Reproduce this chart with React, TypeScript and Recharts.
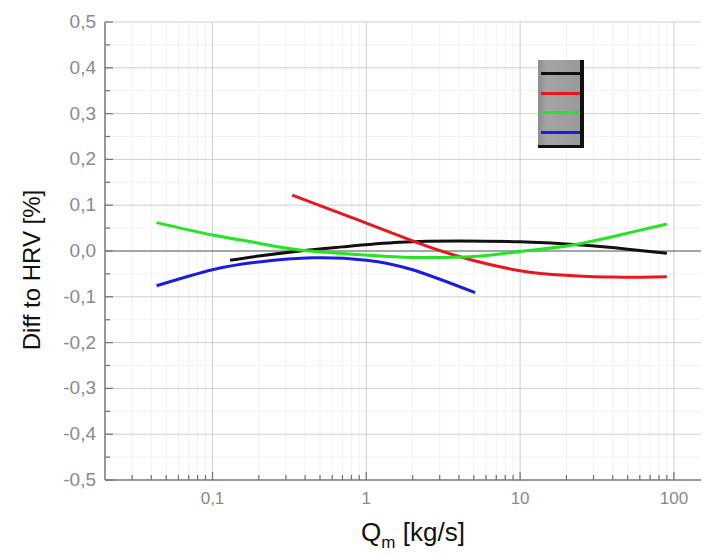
import React from 'react';
import { LineChart, Line, XAxis, YAxis, ReferenceLine, Legend } from 'recharts';

// ---- data (Q_m in kg/s, diff in %) ----
const blackSeries = [
  { x: 0.13, y: -0.02 },
  { x: 0.2, y: -0.011 },
  { x: 0.37, y: 0.0 },
  { x: 0.7, y: 0.009 },
  { x: 1.65, y: 0.019 },
  { x: 4, y: 0.022 },
  { x: 10, y: 0.02 },
  { x: 25, y: 0.013 },
  { x: 50, y: 0.004 },
  { x: 90, y: -0.005 },
];
const redSeries = [
  { x: 0.33, y: 0.122 },
  { x: 0.5, y: 0.099 },
  { x: 1, y: 0.061 },
  { x: 2, y: 0.022 },
  { x: 4, y: -0.012 },
  { x: 10, y: -0.043 },
  { x: 20, y: -0.053 },
  { x: 40, y: -0.057 },
  { x: 90, y: -0.056 },
];
const greenSeries = [
  { x: 0.0433, y: 0.062 },
  { x: 0.1, y: 0.035 },
  { x: 0.2, y: 0.017 },
  { x: 0.37, y: 0.002 },
  { x: 1, y: -0.009 },
  { x: 2, y: -0.014 },
  { x: 5, y: -0.012 },
  { x: 10, y: -0.001 },
  { x: 22, y: 0.013 },
  { x: 50, y: 0.039 },
  { x: 90, y: 0.059 },
];
const blueSeries = [
  { x: 0.0433, y: -0.076 },
  { x: 0.1, y: -0.041 },
  { x: 0.2, y: -0.024 },
  { x: 0.45, y: -0.015 },
  { x: 1, y: -0.02 },
  { x: 2, y: -0.041 },
  { x: 5.1, y: -0.091 },
];

const legendOrder = ['black', 'red', 'green', 'blue'];
const xMajorTicks = [0.1, 1, 10, 100];
const xMinorTicks = [
  0.03, 0.04, 0.05, 0.06, 0.07, 0.08, 0.09,
  0.2, 0.3, 0.4, 0.5, 0.6, 0.7, 0.8, 0.9,
  2, 3, 4, 5, 6, 7, 8, 9,
  20, 30, 40, 50, 60, 70, 80, 90,
];
const yMajorTicks = [-0.5, -0.4, -0.3, -0.2, -0.1, 0, 0.1, 0.2, 0.3, 0.4, 0.5];
const yMinorTicks = [-0.45, -0.35, -0.25, -0.15, -0.05, 0.05, 0.15, 0.25, 0.35, 0.45];
const xDomain = [0.02, 150];
const yDomain = [-0.5, 0.5];

const fmt = (v: number, digits: number) => v.toFixed(digits).replace('.', ',');
const FONT = '"Liberation Sans", Arial, sans-serif';

const isXMajor = (v: number) => xMajorTicks.some((t) => Math.abs(t - v) < 1e-9);
const isYMajor = (v: number) => yMajorTicks.some((t) => Math.abs(t - v) < 1e-9);

const XTick = (props: any) => {
  const { x, y, payload } = props;
  const major = isXMajor(payload.value);
  const label = payload.value < 1 ? fmt(payload.value, 1) : String(payload.value);
  return (
    <g>
      <line x1={x} x2={x} y1={y} y2={y - (major ? 8 : 5)} stroke="#777" strokeWidth={1.3} />
      {major && (
        <text x={x} y={y + 24} textAnchor="middle" fill="#8a8a8a" fontSize={17} fontFamily={FONT}>
          {label}
        </text>
      )}
    </g>
  );
};

const YTick = (props: any) => {
  const { x, y, payload } = props;
  const major = isYMajor(payload.value);
  return (
    <g>
      <line x1={x} x2={x + (major ? 8 : 5)} y1={y} y2={y} stroke="#777" strokeWidth={1.3} />
      {major && (
        <text x={x - 9} y={y + 6} textAnchor="end" fill="#8a8a8a" fontSize={19} fontFamily={FONT}>
          {fmt(payload.value, 1)}
        </text>
      )}
    </g>
  );
};

const YLabel = (props: any) => {
  const vb = props.viewBox || { x: 0, y: 0, width: 0, height: 0 };
  const cx = 31;
  const cy = vb.y + vb.height / 2 + 19;
  return (
    <text
      x={cx}
      y={cy}
      transform={`rotate(-90 ${cx} ${cy})`}
      textAnchor="middle"
      dominantBaseline="central"
      fill="#111"
      fontSize={24}
      fontFamily={FONT}
    >
      Diff to HRV [%]
    </text>
  );
};

const XLabel = (props: any) => {
  const vb = props.viewBox || { x: 0, y: 0, width: 0, height: 0 };
  const cx = vb.x + vb.width / 2 + 10;
  const by = vb.y + 61;
  return (
    <text x={cx} y={by} textAnchor="middle" fill="#111" fontSize={26} fontFamily={FONT}>
      Q
      <tspan fontSize={17} dy={7}>m</tspan>
      <tspan dy={-7}> [kg/s]</tspan>
    </text>
  );
};

const LegendBox = (props: any) => {
  const payload = [...(props.payload || [])].sort(
    (a: any, b: any) => legendOrder.indexOf(a.value) - legendOrder.indexOf(b.value)
  );
  return (
    <div
      style={{
        width: 42,
        height: 85,
        background: 'linear-gradient(90deg, #8c8c8c 0%, #a4a4a4 20%, #9a9a9a 100%)',
        borderRight: '4px solid #111',
        borderBottom: '3px solid #111',
        position: 'relative',
        boxSizing: 'content-box',
      }}
    >
      {payload.map((p: any, i: number) => (
        <div
          key={i}
          style={{
            position: 'absolute',
            left: 3,
            top: 12 + i * 19.7,
            width: 39,
            height: 3,
            background: p.color,
          }}
        />
      ))}
    </div>
  );
};

export default function App() {
  return (
    <div style={{ position: 'absolute', left: 0, top: 0, width: 706, height: 555, background: '#fff' }}>
      <LineChart width={706} height={555} margin={{ top: 22, right: 5, bottom: 0, left: 0 }}>
        <XAxis
          type="number"
          dataKey="x"
          scale="log"
          domain={xDomain}
          allowDataOverflow
          ticks={[...xMinorTicks, ...xMajorTicks]}
          interval={0}
          tickSize={0}
          tickMargin={0}
          tickLine={false}
          tick={<XTick />}
          axisLine={{ stroke: '#777', strokeWidth: 1.5 }}
          height={75}
          label={<XLabel />}
        />
        <YAxis
          type="number"
          dataKey="y"
          domain={yDomain}
          allowDataOverflow
          ticks={[...yMinorTicks, ...yMajorTicks]}
          interval={0}
          tickSize={0}
          tickMargin={0}
          tickLine={false}
          tick={<YTick />}
          axisLine={{ stroke: '#777', strokeWidth: 1.5 }}
          width={105}
          label={<YLabel />}
        />
        {xMinorTicks.map((v) => (
          <ReferenceLine key={'xm' + v} x={v} stroke="#f1f1f1" strokeWidth={1} ifOverflow="hidden" />
        ))}
        {yMinorTicks.map((v) => (
          <ReferenceLine key={'ym' + v} y={v} stroke="#f1f1f1" strokeWidth={1} ifOverflow="hidden" />
        ))}
        {xMajorTicks.map((v) => (
          <ReferenceLine key={'xM' + v} x={v} stroke="#cfcfcf" strokeWidth={1} />
        ))}
        {yMajorTicks
          .filter((v) => v !== 0 && v !== -0.5)
          .map((v) => (
            <ReferenceLine key={'yM' + v} y={v} stroke="#cfcfcf" strokeWidth={1} />
          ))}
        <ReferenceLine y={0} stroke="#888" strokeWidth={1.5} />
        <Legend
          layout="horizontal"
          align="center"
          verticalAlign="middle"
          itemSorter={null as any}
          content={<LegendBox />}
          wrapperStyle={{ position: 'absolute', left: 538, top: 60, width: 'auto', height: 'auto' }}
        />
        <Line data={blackSeries} dataKey="y" name="black" type="natural" stroke="#111111" strokeWidth={3} dot={false} isAnimationActive={false} />
        <Line data={redSeries} dataKey="y" name="red" type="natural" stroke="#e8161e" strokeWidth={3} dot={false} isAnimationActive={false} />
        <Line data={greenSeries} dataKey="y" name="green" type="natural" stroke="#22e622" strokeWidth={3} dot={false} isAnimationActive={false} />
        <Line data={blueSeries} dataKey="y" name="blue" type="natural" stroke="#1c1ce0" strokeWidth={3} dot={false} isAnimationActive={false} />
      </LineChart>
    </div>
  );
}
